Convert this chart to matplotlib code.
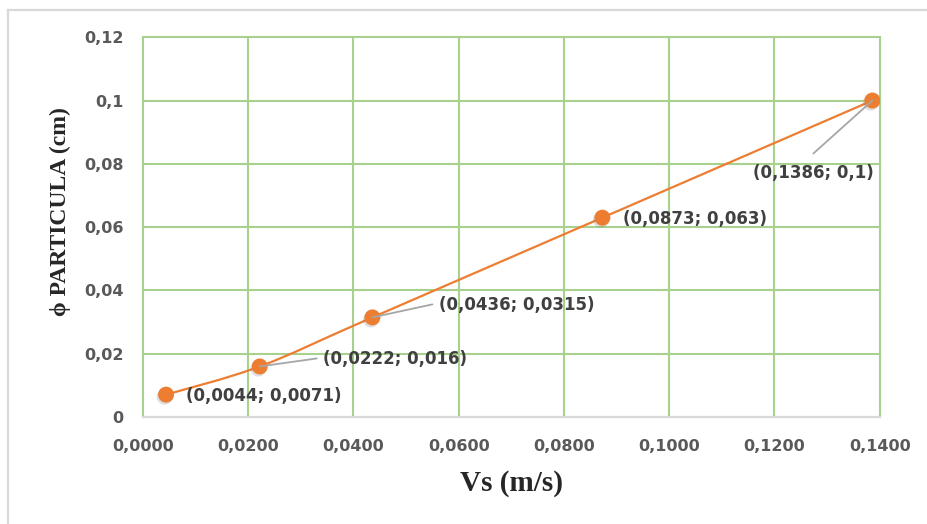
import numpy as np
import matplotlib.pyplot as plt
from matplotlib.path import Path
from matplotlib.patches import PathPatch
from matplotlib.lines import Line2D
import matplotlib.patheffects as pe

vs = [0.0044, 0.0222, 0.0436, 0.0873, 0.1386]
phi = [0.0071, 0.016, 0.0315, 0.063, 0.1]
labels = ['(0,0044; 0,0071)', '(0,0222; 0,016)', '(0,0436; 0,0315)',
          '(0,0873; 0,063)', '(0,1386; 0,1)']
x_ticks = [0.0, 0.02, 0.04, 0.06, 0.08, 0.10, 0.12, 0.14]
y_ticks = [0.0, 0.02, 0.04, 0.06, 0.08, 0.10, 0.12]
x_ticklabels = ['0,0000', '0,0200', '0,0400', '0,0600', '0,0800', '0,1000', '0,1200', '0,1400']
y_ticklabels = ['0', '0,02', '0,04', '0,06', '0,08', '0,1', '0,12']

# label offsets in pixels, leader line start (None = no leader)
offsets = [(20, -1), (63, 7), (67, 12), (21, -1), (-59, -72)]
leader_starts = [None, (57, 8), (60, 13), None, (-59, -53)]

orange = '#ED7D31'
grid_green = '#A9D18E'
tick_grey = '#595959'
label_grey = '#404040'

fig = plt.figure(figsize=(9.28, 5.24), dpi=100)
# chart frame: only left and top edges fall inside the picture
fx, fy = 8 / 928, 1 - 10 / 524
fig.lines.append(Line2D([fx, fx], [0, fy], transform=fig.transFigure, color='#D9D9D9', linewidth=1.6))
fig.lines.append(Line2D([fx, 1], [fy, fy], transform=fig.transFigure, color='#D9D9D9', linewidth=1.6))

ax = fig.add_axes([0.154, 0.204, 0.794, 0.725])

ax.set_xlim(0, 0.14)
ax.set_ylim(0, 0.12)
ax.set_xticks(x_ticks)
ax.set_xticklabels(x_ticklabels)
ax.set_yticks(y_ticks)
ax.set_yticklabels(y_ticklabels)
ax.tick_params(axis='x', length=0, pad=16)
ax.tick_params(axis='y', length=0, pad=14)
for lab in ax.get_xticklabels() + ax.get_yticklabels():
    lab.set_fontfamily('DejaVu Sans')
    lab.set_fontweight('bold')
    lab.set_fontsize(11.5)
    lab.set_color(tick_grey)

ax.grid(True, color=grid_green, linewidth=1.5)
ax.set_axisbelow(True)
for gl in ax.get_xgridlines() + ax.get_ygridlines():
    gl.set_clip_on(False)
for side in ['top', 'right', 'left']:
    ax.spines[side].set_visible(False)
ax.spines['bottom'].set_color('#D9D9D9')
ax.spines['bottom'].set_linewidth(1.5)

# smoothed line (Catmull-Rom style bezier, like Excel smoothing)
pts = np.column_stack([vs, phi])
verts = [pts[0]]
codes = [Path.MOVETO]
n = len(pts)
for i in range(n - 1):
    p0 = pts[i - 1] if i > 0 else pts[i]
    p1 = pts[i]
    p2 = pts[i + 1]
    p3 = pts[i + 2] if i + 2 < n else pts[i + 1]
    c1 = p1 + (p2 - p0) / 6.0
    c2 = p2 - (p3 - p1) / 6.0
    verts += [c1, c2, p2]
    codes += [Path.CURVE4] * 3
ax.add_patch(PathPatch(Path(verts, codes), fill=False, edgecolor=orange, linewidth=1.6, zorder=3))

ax.plot(vs, phi, linestyle='none', marker='o', markersize=11.5, color=orange,
        markeredgewidth=0, zorder=4,
        path_effects=[pe.SimplePatchShadow(offset=(-1, -1.5), shadow_rgbFace='#7F7F7F', alpha=0.25),
                      pe.Normal()])

for x, y, txt, off, lead in zip(vs, phi, labels, offsets, leader_starts):
    ax.annotate(txt, xy=(x, y), xytext=off, textcoords='offset pixels',
                ha='left' if off[0] > 0 else 'center', va='center',
                fontsize=12, fontweight='bold', fontfamily='DejaVu Sans',
                color=label_grey, zorder=5)
    if lead is not None:
        ax.annotate('', xy=(x, y), xytext=lead, textcoords='offset pixels',
                    arrowprops=dict(arrowstyle='-', color='#A6A6A6', linewidth=1.3,
                                    shrinkA=0, shrinkB=0), zorder=5)

ax.set_xlabel('Vs (m/s)', fontfamily='Liberation Serif', fontweight='bold',
              fontsize=21, color='#262626', labelpad=11)
ax.set_ylabel('\u03d5 PARTICULA (cm)', fontfamily='Liberation Serif', fontweight='bold',
              fontsize=17, color='#262626')
ax.yaxis.set_label_coords(-0.098, 0.54)

fig.savefig('out.png', dpi=100, facecolor='w')
